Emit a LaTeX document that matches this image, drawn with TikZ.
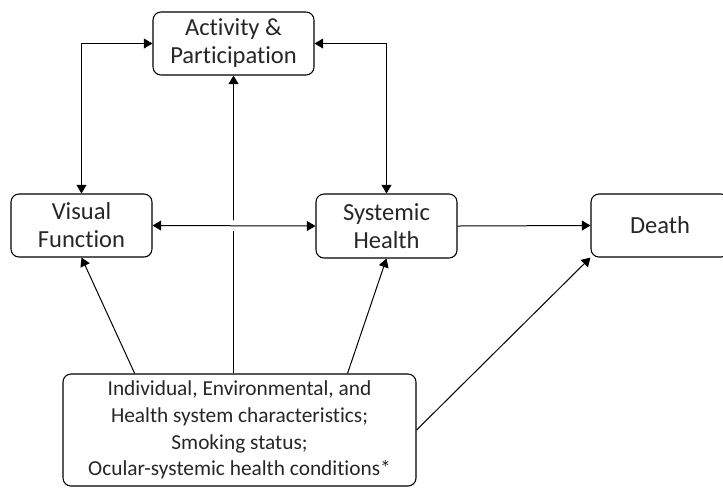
\documentclass[tikz,border=0pt]{standalone}
\usepackage{fontspec}
\setmainfont[Ligatures={NoCommon,NoRare}]{Carlito}
\usepackage{tikz}
\usetikzlibrary{arrows.meta,calc}

\begin{document}
\begin{tikzpicture}[x=0.75pt,y=-0.75pt,
  box/.style={draw,rounded corners=6pt,align=center,inner sep=0pt,line width=0.8pt,text=black!85,
    font=\fontsize{18.4pt}{21pt}\selectfont},
  link/.style={line width=0.75pt,-{Triangle[length=6.5pt,width=7.5pt]}},
  twoway/.style={link,{Triangle[length=6.5pt,width=7.5pt]}-{Triangle[length=6.5pt,width=7.5pt]}}]
\useasboundingbox (0,0) rectangle (723,487);
% boxes
\node[box,minimum width=120.75pt,minimum height=47.25pt] (act) at (233.5,43.5) {Activity \&\\Participation};
\node[box,minimum width=105.75pt,minimum height=47.25pt] (vis) at (81.5,225.5) {Visual\\Function};
\node[box,minimum width=105.75pt,minimum height=48pt] (sys) at (386.5,226) {Systemic\\Health};
\node[box,minimum width=103.5pt,minimum height=47.25pt] (death) at (660,225.5) {Death};
\node[box,minimum width=264.75pt,minimum height=84pt,font=\fontsize{16pt}{20pt}\selectfont] (fac) at (239.5,430)
  {Individual, Environmental, and\\Health system characteristics;\\Smoking status;\\Ocular-systemic health conditions*};
% arrows
\draw[link] (act.south |- fac.north) -- (act.south);
\draw[twoway,preaction={draw=white,line width=8pt,-,shorten >=5pt,shorten <=5pt}] (vis.east) -- (sys.west);
\draw[twoway] (vis.north) |- (act.west);
\draw[twoway] (act.east) -| (sys.north);
\draw[link] (sys.east) -- (death.west);
\draw[link] ($(fac.north west)!0.204!(fac.north east)$) -- (vis.south);
\draw[link] ($(fac.north west)!0.805!(fac.north east)$) -- (sys.south);
\draw[link] (fac.east) -- (death.south west);
\end{tikzpicture}
\end{document}
